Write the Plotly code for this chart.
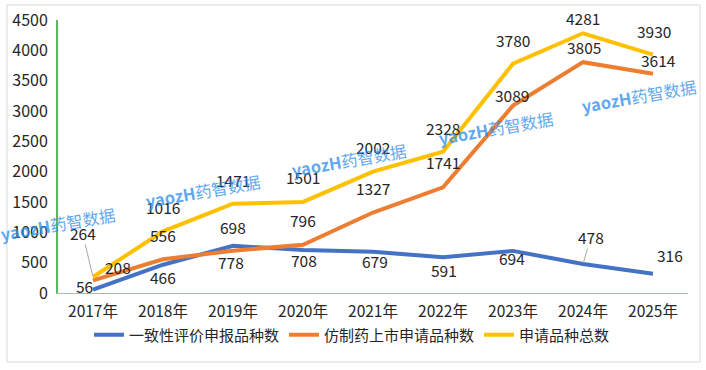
import plotly.graph_objects as go

years = ["2017年", "2018年", "2019年", "2020年", "2021年", "2022年", "2023年", "2024年", "2025年"]
consistency = [56, 466, 778, 708, 679, 591, 694, 478, 316]
generic = [208, 556, 698, 796, 1327, 1741, 3089, 3805, 3614]
total = [264, 1016, 1471, 1501, 2002, 2328, 3780, 4281, 3930]

names = ["一致性评价申报品种数", "仿制药上市申请品种数", "申请品种总数"]
colors = ["#4472C4", "#ED7D31", "#FFC000"]

# label offsets in pixels (dx right, dy down)
off_cons = [(-9, -4), (0, 12), (-2, 16), (1, 10), (2, 9), (1, 13), (-1, 7), (8, -27), (17, -19)]
off_gen = [(24.5, -13.7), (0, -24), (0, -24), (0, -25), (0, -25), (0, -25), (-1, -11), (1, -15.5), (5, -13.7)]
off_tot = [(-10.5, -44), (0, -24), (0, -24), (0, -25), (0, -25), (0, -24), (0, -24), (0, -15), (1, -23.6)]
leader = {("tot", 0), ("cons", 7)}

FONT = "Microsoft YaHei, Noto Sans CJK SC, sans-serif"
L, R, T, B = 58, 688, 20, 293
W, H = 706, 370

fig = go.Figure()
for vals, name, col in [(consistency, names[0], colors[0]), (generic, names[1], colors[1]), (total, names[2], colors[2])]:
    fig.add_trace(go.Scatter(x=list(range(len(years))), y=vals, name=name, mode="lines",
                             line=dict(color=col, width=4)))

annotations = []
for key, vals, offs in [("cons", consistency, off_cons), ("gen", generic, off_gen), ("tot", total, off_tot)]:
    for i, (v, (dx, dy)) in enumerate(zip(vals, offs)):
        if (key, i) in leader:
            annotations.append(dict(x=i, y=v, xref="x", yref="y", text=str(v), showarrow=True,
                                    ax=dx, ay=dy, arrowhead=0, arrowwidth=1, arrowcolor="#a6a6a6",
                                    standoff=1, borderpad=0,
                                    font=dict(size=15.5, color="#262626", family=FONT)))
        else:
            annotations.append(dict(x=i, y=v, xref="x", yref="y", text=str(v), showarrow=False,
                                    xshift=dx, yshift=-dy, borderpad=0,
                                    font=dict(size=15.5, color="#262626", family=FONT)))

# watermarks
wm_pos = [(58, 224), (203, 191), (349, 160), (496, 128), (639, 96)]
for px, py in wm_pos:
    annotations.append(dict(x=(px - L) / (R - L), y=(B - py) / (B - T), xref="paper", yref="paper",
                            xanchor="center", yanchor="middle",
                            text="<b>yaozH</b>药智数据", showarrow=False, textangle=-10,
                            font=dict(size=16.5, color="rgba(40,140,235,0.75)", family=FONT)))

fig.update_layout(
    width=W, height=H,
    margin=dict(l=L, r=W - R, t=T, b=H - B, autoexpand=False),
    paper_bgcolor="white", plot_bgcolor="white",
    font=dict(family=FONT, size=15, color="#262626"),
    showlegend=True,
    legend=dict(orientation="h", x=(352 - L) / (R - L), xanchor="center", y=(B - 335) / (B - T),
                yanchor="middle", font=dict(size=15, color="#262626"), itemwidth=30,
                tracegroupgap=0),
    annotations=annotations,
    shapes=[dict(type="rect", xref="paper", yref="paper",
                 x0=(7 - L) / (R - L), x1=(700 - L) / (R - L),
                 y0=(B - 362) / (B - T), y1=(B - 5) / (B - T),
                 line=dict(color="#d9d9d9", width=1), fillcolor="rgba(0,0,0,0)", layer="below")],
)
fig.update_xaxes(range=[-0.5, len(years) - 0.5], tickvals=list(range(len(years))), ticktext=years,
                 showgrid=False, zeroline=False, showline=True, linecolor="#a3c2a3", linewidth=1,
                 ticks="", ticklabelstandoff=4, tickfont=dict(size=15.5, color="#262626"))
fig.update_yaxes(range=[0, 4500], dtick=500, showgrid=False, zeroline=False, showline=True,
                 linecolor="#5cb85c", linewidth=2, ticks="", ticklabelstandoff=5,
                 tickfont=dict(size=16, color="#262626"))

fig.write_html("out.html", config={"displayModeBar": False},
               post_script="document.body.style.margin='0';document.body.style.overflow='hidden';")
